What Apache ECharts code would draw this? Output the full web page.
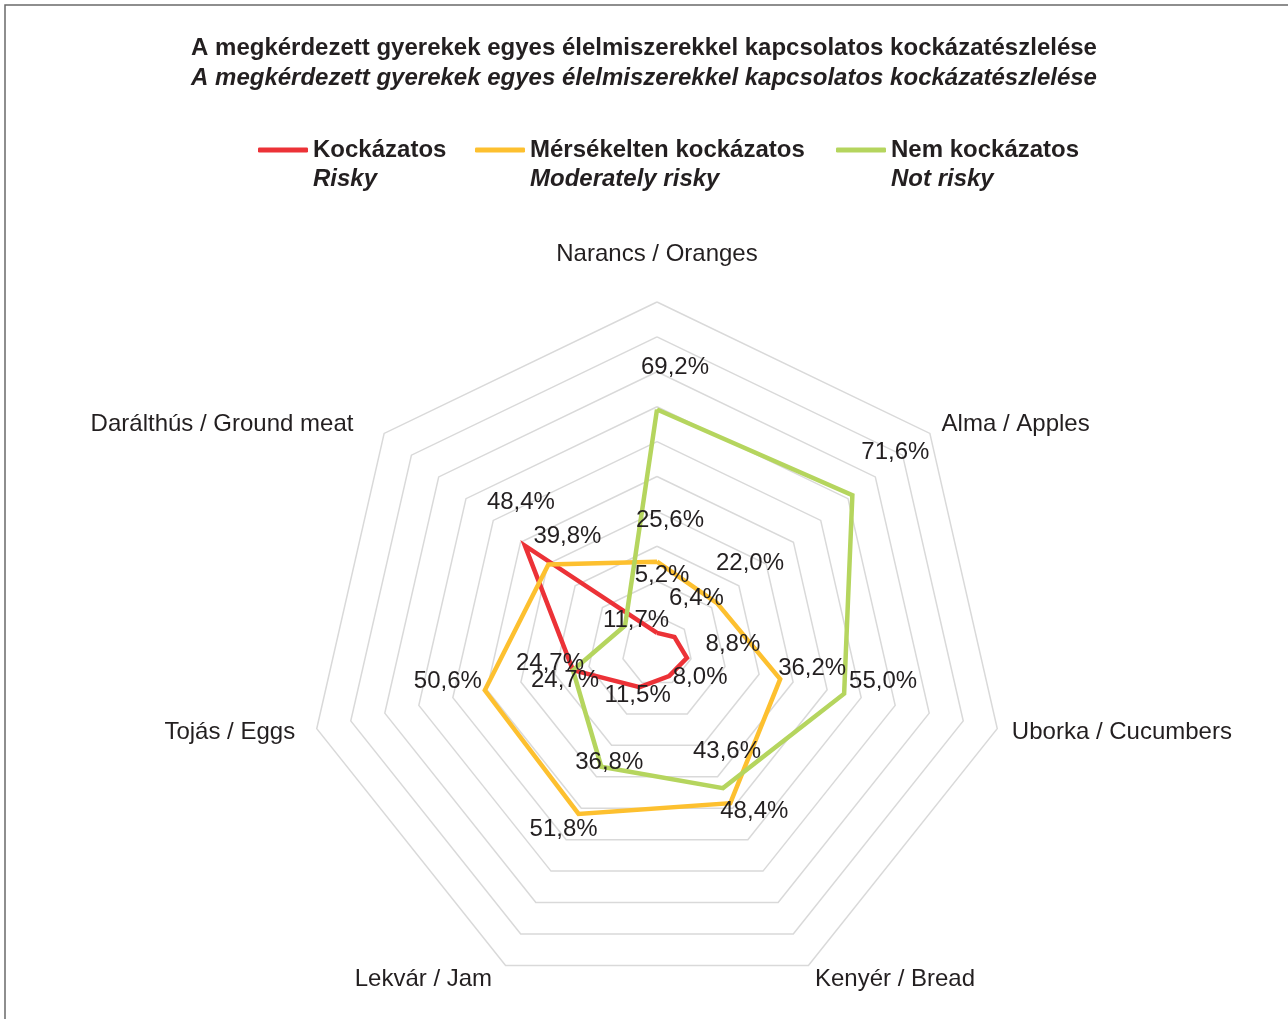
<!DOCTYPE html>
<html>
<head>
<meta charset="utf-8">
<title>Kockázatészlelés</title>
<script src="https://cdn.jsdelivr.net/npm/echarts@6/dist/echarts.min.js"></script>
<style>
html, body { margin: 0; padding: 0; background: #fff; }
#chart { width: 1288px; height: 1019px; }
</style>
</head>
<body>
<div id="chart"></div>
<script>
const categories = ['Narancs / Oranges', 'Alma / Apples', 'Uborka / Cucumbers', 'Kenyér / Bread', 'Lekvár / Jam', 'Tojás / Eggs', 'Darálthús / Ground meat']
const seriesNames = ['Kockázatos', 'Mérsékelten kockázatos', 'Nem kockázatos']
const seriesNamesEn = ['Risky', 'Moderately risky', 'Not risky']
const risky = [5.2, 6.4, 8.8, 8.0, 11.5, 24.7, 48.4]
const moderate = [25.6, 22.0, 36.2, 48.4, 51.8, 50.6, 39.8]
const notRisky = [69.2, 71.6, 55.0, 43.6, 36.8, 24.7, 11.7]
const axisMax = 100

const colors = ['#ec3237', '#fdc02f', '#b5d55e']
const font = "'Liberation Sans', Arial, Helvetica, sans-serif"
const ink = '#231f20'

// label nudges (dx, dy), same order as the categories
const labelShift = [
  [[5, -57], [22, -39], [46, -13], [31, 1], [-2, 8], [-23, -7], [-4, -43]],
  [[13, -41], [33, -40], [32, -11], [24, 8], [-15, 15], [-37, -9], [19, -28]],
  [[18, -42], [43, -43], [39, -12], [4, -37], [8, -4], [-8, 10], [11, -5]]
]
// extra room between ring and axis name, per category [bottom, right]
const namePad = [[21, 0], [0, 0], [0, 0], [0, 0], [0, 7], [0, 7], [0, 19]]
const legendLeft = [253, 470, 831]

// echarts puts indicators counter-clockwise, the original runs clockwise
const order = [0, 6, 5, 4, 3, 2, 1]
const pick = arr => order.map(i => arr[i])
const fmt = v => v.toFixed(1).replace('.', ',') + '%'
const allValues = [risky, moderate, notRisky]

const chart = echarts.init(document.getElementById('chart'))

const nameRich = {}
namePad.forEach((p, i) => {
  nameRich['n' + i] = { fontFamily: font, fontSize: 24, color: ink, padding: [0, p[1], p[0], 0] }
})

const option = {
  backgroundColor: '#fff',
  graphic: [{
    type: 'rect',
    silent: true,
    shape: { x: 5, y: 5, width: 1400, height: 1100 },
    style: { fill: 'none', stroke: '#6a6a6a', lineWidth: 1.5 }
  }],
  title: {
    left: 'center',
    top: 28,
    padding: [5, 0, 5, 12],
    itemGap: 0,
    text: 'A megkérdezett gyerekek egyes élelmiszerekkel kapcsolatos kockázatészlelése',
    subtext: 'A megkérdezett gyerekek egyes élelmiszerekkel kapcsolatos kockázatészlelése',
    textStyle: { fontFamily: font, fontSize: 24, fontWeight: 'bold', color: ink, lineHeight: 30 },
    subtextStyle: { fontFamily: font, fontSize: 24, fontWeight: 'bold', fontStyle: 'italic', color: ink, lineHeight: 30 }
  },
  legend: seriesNames.map((n, k) => ({
    data: [n],
    left: legendLeft[k],
    top: 104,
    icon: 'roundRect',
    itemWidth: 50,
    itemHeight: 5,
    selectedMode: false,
    formatter: name => '{e| }\n{a|' + name + '}\n{b|' + seriesNamesEn[k] + '}',
    textStyle: {
      fontFamily: font,
      color: ink,
      rich: {
        e: { fontSize: 24, lineHeight: 29 },
        a: { fontFamily: font, fontSize: 24, fontWeight: 'bold', color: ink, lineHeight: 29 },
        b: { fontFamily: font, fontSize: 24, fontWeight: 'bold', fontStyle: 'italic', color: ink, lineHeight: 29 }
      }
    }
  })),
  radar: {
    center: [657, 651],
    radius: 349,
    startAngle: 90,
    splitNumber: 10,
    shape: 'polygon',
    nameGap: 15,
    indicator: pick(categories).map(c => ({ name: c, max: axisMax, min: 0 })),
    axisName: {
      color: ink,
      fontFamily: font,
      fontSize: 24,
      rich: nameRich,
      formatter: (name) => '{n' + categories.indexOf(name) + '|' + name + '}'
    },
    axisLine: { show: false },
    axisTick: { show: false },
    axisLabel: { show: false },
    splitLine: { lineStyle: { color: '#d9d9d9', width: 1.5 } },
    splitArea: { show: false }
  },
  series: allValues.map((vals, k) => ({
    name: seriesNames[k],
    type: 'radar',
    symbol: 'circle',
    symbolSize: 1,
    itemStyle: { color: colors[k] },
    lineStyle: { color: colors[k], width: 4.5, join: 'miter' },
    label: {
      show: true,
      position: 'inside',
      color: ink,
      fontFamily: font,
      fontSize: 24,
      formatter: p => fmt(p.value)
    },
    labelLayout: function (p) {
      const i = vals.map(fmt).indexOf(p.text)
      const s = labelShift[k][i] || [0, 0]
      return { dx: s[0], dy: s[1] }
    },
    data: [{ name: seriesNames[k], value: pick(vals) }]
  }))
}

chart.setOption(option)
window.onresize = function () {
  chart.resize()
}
</script>
</body>
</html>
